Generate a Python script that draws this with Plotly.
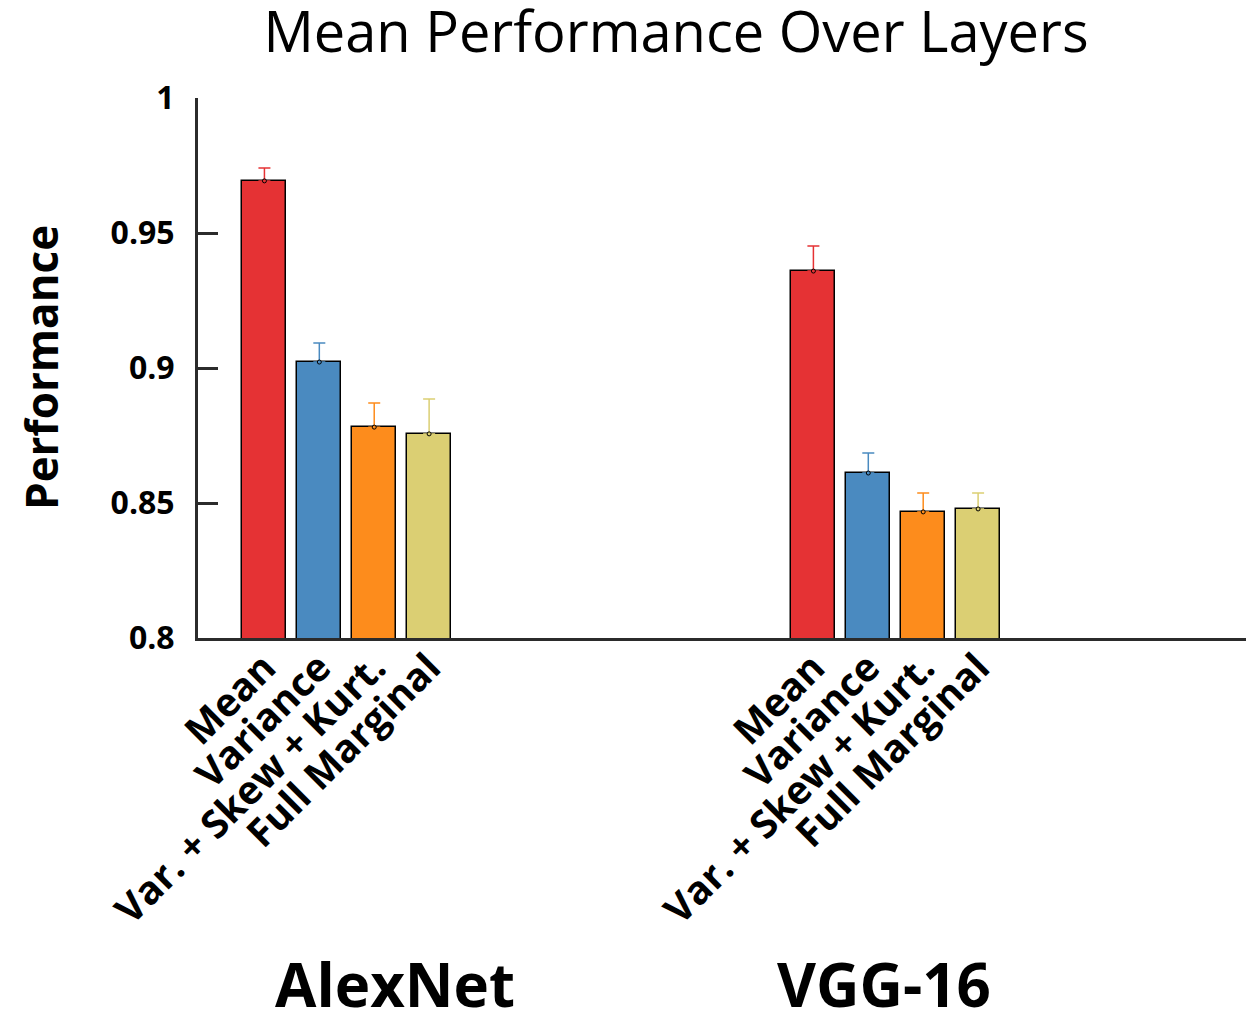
import plotly.graph_objects as go

# ---- data ----
groups = ["AlexNet", "VGG-16"]
categories = ["Mean", "Variance", "Var. + Skew + Kurt.", "Full Marginal"]
mean_vals = [0.9693, 0.9359]
mean_err = [0.0048, 0.0093]
variance_vals = [0.9022, 0.8611]
variance_err = [0.0071, 0.0074]
vsk_vals = [0.8781, 0.8467]
vsk_err = [0.0089, 0.0070]
fm_vals = [0.8756, 0.8478]
fm_err = [0.0129, 0.0059]
colors = ["#E53234", "#4A8AC0", "#FD8C1C", "#DBCF73"]
y_ticks = [0.8, 0.85, 0.9, 0.95, 1.0]
y_ticktext = ["0.8", "0.85", "0.9", "0.95", "1"]

series_vals = [mean_vals, variance_vals, vsk_vals, fm_vals]
series_err = [mean_err, variance_err, vsk_err, fm_err]

# slot positions: group g starts at slot 10*g
group_start = [0, 10]
group_label_offset = [2.38, 1.28]

FONT = "Open Sans"
AXC = "#2b2b2b"

fig = go.Figure()
tickvals, ticktext = [], []
for ci, (cat, vals, errs, col) in enumerate(zip(categories, series_vals, series_err, colors)):
    xs = [group_start[g] + ci for g in range(len(groups))]
    tickvals += xs
    ticktext += [cat] * len(groups)
    fig.add_trace(go.Bar(
        x=xs, y=vals, width=0.8, marker=dict(color=col, line=dict(color="black", width=1.5)),
        showlegend=False, hoverinfo="skip"))
for ci, (cat, vals, errs, col) in enumerate(zip(categories, series_vals, series_err, colors)):
    xs = [group_start[g] + ci for g in range(len(groups))]
    fig.add_trace(go.Scatter(
        x=xs, y=vals, mode="markers",
        marker=dict(size=4, color=col, line=dict(color="black", width=1)),
        error_y=dict(type="data", array=errs, arrayminus=[0] * len(errs), symmetric=False,
                     color=col, thickness=1.5, width=6),
        showlegend=False, cliponaxis=False))

order = sorted(range(len(tickvals)), key=lambda i: tickvals[i])
tickvals = [tickvals[i] for i in order]
ticktext = [ticktext[i] for i in order]

fig.update_layout(
    width=1246, height=1017,
    margin=dict(l=198, r=0, t=98, b=379),
    plot_bgcolor="white", paper_bgcolor="white",
    bargap=0,
    title=dict(text="Mean Performance Over Layers", x=676 / 1246, xref="container", xanchor="center",
               y=1 - 32 / 1017, yref="container", yanchor="middle",
               font=dict(family=FONT, size=56, color="black")),
    xaxis=dict(range=[-1.21, 17.88], showgrid=False, zeroline=False, showline=True,
               linewidth=3, linecolor=AXC, tickmode="array", tickvals=tickvals, ticktext=ticktext,
               tickangle=-45, ticks="", ticklabelstandoff=-12,
               tickfont=dict(family=FONT, size=39, color="black", weight="bold")),
    yaxis=dict(range=[0.8, 1.0], showgrid=False, zeroline=False, showline=True,
               linewidth=3, linecolor=AXC, tickmode="array", tickvals=y_ticks, ticktext=y_ticktext,
               ticks="inside", ticklen=20, tickwidth=3, tickcolor=AXC, ticklabelstandoff=14,
               tickfont=dict(family=FONT, size=32, color="black", weight="bold")),
)

fig.add_annotation(text="Performance", textangle=-90, xref="paper", yref="paper",
                   x=(41 - 198) / 1048, y=0.5, xanchor="center", yanchor="middle", showarrow=False,
                   font=dict(family=FONT, size=44, color="black", weight="bold"))
for g, name in enumerate(groups):
    fig.add_annotation(text=name, xref="x", yref="paper", x=group_start[g] + group_label_offset[g],
                       y=(638 - 984) / 540, xanchor="center", yanchor="middle", showarrow=False,
                       font=dict(family=FONT, size=60, color="black", weight="bold"))

fig.write_html("out.html")
